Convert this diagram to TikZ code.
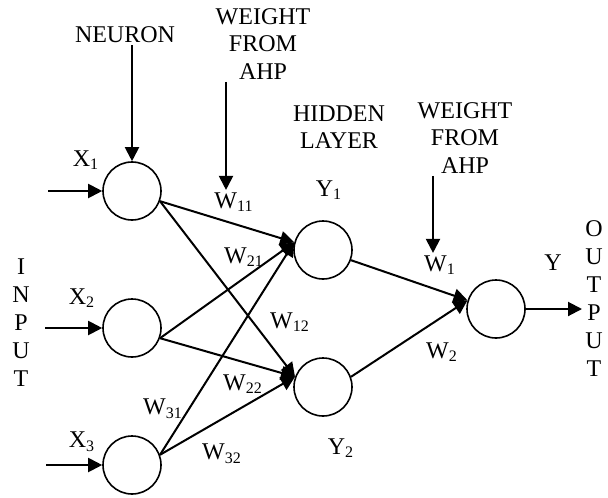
\documentclass[tikz,border=0pt]{standalone}
\usepackage{fontspec}
\setmainfont{Liberation Serif}
\usetikzlibrary{arrows.meta}

\begin{document}
\begin{tikzpicture}[x=0.5pt,y=-0.5pt,
  unit/.style={draw,circle,line width=0.8pt,minimum size=29pt,inner sep=0pt},
  lbl/.style={font=\fontsize{12}{13.8}\selectfont,inner sep=1pt,align=center},
  vlbl/.style={font=\fontsize{12}{14}\selectfont,inner sep=0pt,align=center},
  arr/.style={line width=1pt,-{Triangle[length=7pt,width=7pt]}}]
\useasboundingbox (0,0) rectangle (608,497);
% neurons
\node[unit] (x1) at (132,191) {};
\node[unit] (x2) at (132,328) {};
\node[unit] (x3) at (132,465) {};
\node[unit] (y1) at (323,250) {};
\node[unit] (y2) at (323,387) {};
\node[unit] (yout) at (496,309) {};
% captions
\node[lbl] (neuron) at (125,35) {NEURON};
\node[lbl] (wtop) at (263,44) {WEIGHT\\FROM\\AHP};
\node[lbl] (hidden) at (339,127) {HIDDEN\\LAYER};
\node[lbl] (wright) at (465,138) {WEIGHT\\FROM\\AHP};
\node[vlbl] (input) at (21,323) {I\\N\\P\\U\\T};
\node[vlbl] (output) at (594,299) {O\\U\\T\\P\\U\\T};
\node[lbl] (lx1) at (86,160) {X\textsubscript{1}};
\node[lbl] (lx2) at (82,298) {X\textsubscript{2}};
\node[lbl] (lx3) at (82,442) {X\textsubscript{3}};
\node[lbl] (ly1) at (329,190) {Y\textsubscript{1}};
\node[lbl] (ly2) at (341,448) {Y\textsubscript{2}};
\node[lbl] (ly) at (553,263) {Y};
% weights
\node[lbl] (w11) at (234,202) {W\textsubscript{11}};
\node[lbl] (w21) at (244,257) {W\textsubscript{21}};
\node[lbl] (w12) at (290,322) {W\textsubscript{12}};
\node[lbl] (w22) at (243,384) {W\textsubscript{22}};
\node[lbl] (w31) at (163,409) {W\textsubscript{31}};
\node[lbl] (w32) at (222,454) {W\textsubscript{32}};
\node[lbl] (w1) at (440,265) {W\textsubscript{1}};
\node[lbl] (w2) at (442,352) {W\textsubscript{2}};
% free ends
\coordinate (in1) at (48,191);
\coordinate (in2) at (45,328);
\coordinate (in3) at (46,465);
\coordinate (out) at (582,309);
\coordinate (c11) at (226,0);
\coordinate (c1) at (433,0);
% arrows
\draw[arr] (in1) -- (x1.west);
\draw[arr] (in2) -- (x2.west);
\draw[arr] (in3) -- (x3.west);
\draw[arr] (yout.east) -- (out);
\draw[arr] (neuron.south -| x1) -- (x1.north);
\draw[arr] (wtop.south -| c11) -- (w11.north -| c11);
\draw[arr] (wright.south -| c1) -- (w1.north -| c1);
\draw[arr] (x1.-20) -- (y1.165);
\draw[arr] (x1.-20) -- (y2.160);
\draw[arr] (x2.-20) -- (y1.165);
\draw[arr] (x2.-20) -- (y2.160);
\draw[arr] (x3.20) -- (y1.165);
\draw[arr] (x3.20) -- (y2.160);
\draw[arr] (y1.-20) -- (yout.163);
\draw[arr] (y2.20) -- (yout.163);
\end{tikzpicture}
\end{document}
